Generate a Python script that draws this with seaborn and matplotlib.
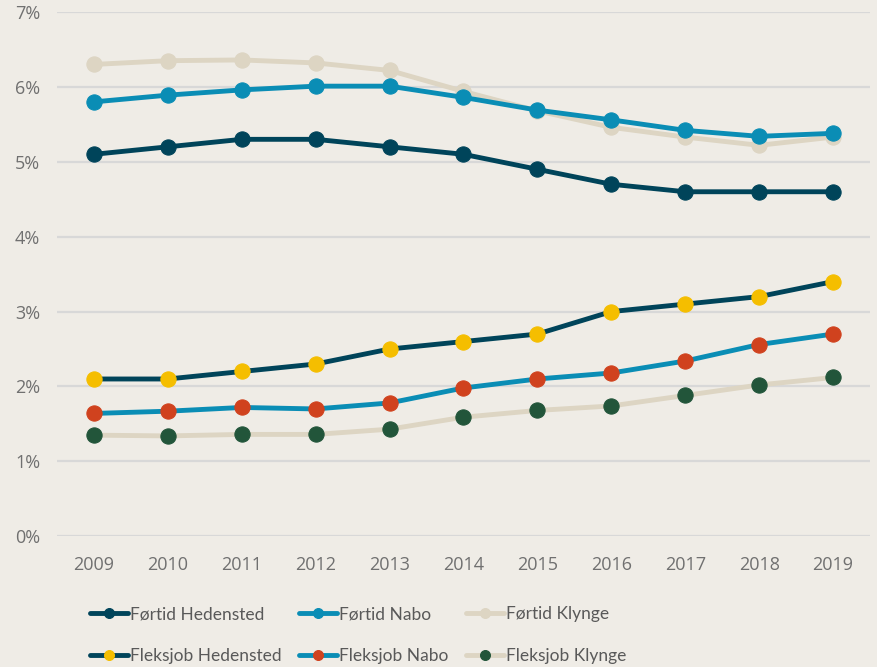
import seaborn as sns
import matplotlib.pyplot as plt
from matplotlib.ticker import FuncFormatter

years = [2009, 2010, 2011, 2012, 2013, 2014, 2015, 2016, 2017, 2018, 2019]

fortid_hedensted = [5.1, 5.2, 5.3, 5.3, 5.2, 5.1, 4.9, 4.7, 4.6, 4.6, 4.6]
fortid_nabo = [5.80, 5.89, 5.96, 6.01, 6.01, 5.86, 5.69, 5.56, 5.42, 5.34, 5.38]
fortid_klynge = [6.30, 6.35, 6.36, 6.32, 6.22, 5.94, 5.68, 5.46, 5.33, 5.22, 5.33]
fleks_hedensted = [2.1, 2.1, 2.2, 2.3, 2.5, 2.6, 2.7, 3.0, 3.1, 3.2, 3.4]
fleks_nabo = [1.64, 1.67, 1.72, 1.70, 1.78, 1.98, 2.10, 2.18, 2.34, 2.56, 2.70]
fleks_klynge = [1.35, 1.34, 1.36, 1.36, 1.43, 1.59, 1.68, 1.74, 1.88, 2.02, 2.12]

dark = "#00445A"
blue = "#0A8DB5"
beige = "#DDD5C3"
yellow = "#F5BE00"
red = "#D0421E"
green = "#22553A"
bg = "#EFECE6"

sns.set_style("white")
plt.rcParams["font.family"] = ["Open Sans", "DejaVu Sans"]

fig = plt.figure(figsize=(8.77, 6.67), dpi=100, facecolor=bg)
ax = fig.add_axes([0.065, 0.196, 0.927, 0.786])
ax.set_facecolor(bg)

# (label, values, line colour, marker colour) - draw order back to front
series = [
    ("Førtid Klynge", fortid_klynge, beige, beige),
    ("Førtid Nabo", fortid_nabo, blue, blue),
    ("Førtid Hedensted", fortid_hedensted, dark, dark),
    ("Fleksjob Klynge", fleks_klynge, beige, green),
    ("Fleksjob Nabo", fleks_nabo, blue, red),
    ("Fleksjob Hedensted", fleks_hedensted, dark, yellow),
]

for label, vals, lc, mc in series:
    sns.lineplot(x=years, y=vals, ax=ax, color=lc, linewidth=3.5, marker="o",
                 markersize=11, markerfacecolor=mc, markeredgecolor=mc,
                 label=label, zorder=3)

ax.set_xlim(2008.5, 2019.5)
ax.set_ylim(0, 7)
ax.set_xticks(years)
ax.set_yticks(range(0, 8))
ax.yaxis.set_major_formatter(FuncFormatter(lambda v, p: f"{int(v)}%"))
ax.grid(axis="y", color="#D8D8D8", linewidth=1.6, zorder=0)
ax.set_axisbelow(True)
for s in ax.spines.values():
    s.set_visible(False)
ax.tick_params(axis="both", length=0, labelsize=13, labelcolor="#707070")
ax.tick_params(axis="y", pad=12)
ax.tick_params(axis="x", pad=14)

handles, labels = ax.get_legend_handles_labels()
hmap = dict(zip(labels, handles))
ax.get_legend().remove()

order = ["Førtid Hedensted", "Fleksjob Hedensted", "Førtid Nabo",
         "Fleksjob Nabo", "Førtid Klynge", "Fleksjob Klynge"]
fig.legend([hmap[k] for k in order], order, ncol=3, loc="upper left",
           bbox_to_anchor=(90 / 877, 1 - 606 / 667), frameon=False,
           prop={"family": ["Lato", "Open Sans"], "size": 12.5},
           labelcolor="#595959", handlelength=2.2, handletextpad=0.1,
           markerscale=0.65, labelspacing=1.5, borderpad=0,
           borderaxespad=0, columnspacing=1.0)

fig.savefig("out.png", dpi=100, facecolor=bg)
